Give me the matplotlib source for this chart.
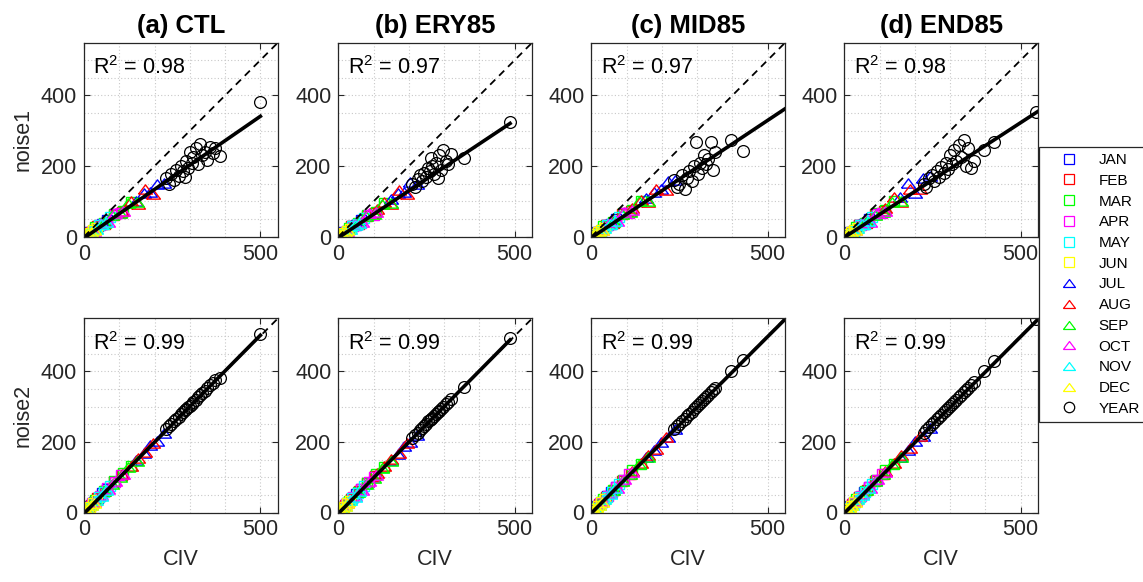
import matplotlib
matplotlib.use('Agg')
import matplotlib.pyplot as plt
from matplotlib.lines import Line2D

plt.rcParams['font.family'] = ['Liberation Sans', 'DejaVu Sans']
plt.rcParams['mathtext.fontset'] = 'custom'
plt.rcParams['mathtext.rm'] = 'Liberation Sans'
plt.rcParams['mathtext.default'] = 'regular'

# ---- data ----
months = ['JAN', 'FEB', 'MAR', 'APR', 'MAY', 'JUN',
          'JUL', 'AUG', 'SEP', 'OCT', 'NOV', 'DEC']
titles = ['(a) CTL', '(b) ERY85', '(c) MID85', '(d) END85']
row_labels = ['noise1', 'noise2']
r2_top = [0.98, 0.97, 0.97, 0.98]
r2_bot = [0.99, 0.99, 0.99, 0.99]
fit_slope_top = [0.69, 0.665, 0.665, 0.65]
fit_icpt_top = [-4, -3, -3, -2]
fit_slope_bot = [1.01, 1.01, 1.0, 1.0]
fit_icpt_bot = [-3, -3, -2, -2]
fit_xmax = [500, 487, 560, 550]

# CTL
ctl_civ_mon = [[15, 28, 40, 52, 66], [20, 38, 60, 84, 108], [32, 58, 86, 110, 134],
               [24, 44, 66, 88, 104], [10, 26, 42, 58, 74], [3, 9, 17, 26, 36],
               [148, 170, 188, 208, 226], [108, 132, 152, 174, 196], [58, 80, 102, 126, 150],
               [28, 48, 68, 88, 110], [9, 20, 34, 48, 62], [2, 6, 12, 19, 28]]
ctl_n1_mon = [[13, 18, 31, 35, 48], [12, 31, 37, 62, 70], [28, 40, 64, 74, 98],
              [13, 33, 42, 64, 66], [9, 15, 33, 36, 55], [3, 7, 11, 18, 25],
              [102, 124, 128, 150, 152], [74, 102, 94, 134, 122], [40, 62, 66, 96, 98],
              [17, 39, 42, 68, 72], [7, 15, 23, 35, 41], [2, 5, 8, 14, 19]]
ctl_n2_mon = [[17, 29, 42, 55, 67], [22, 40, 61, 87, 107], [35, 60, 88, 113, 132],
              [26, 46, 68, 87, 106], [12, 28, 43, 57, 76], [4, 10, 16, 27, 35],
              [148, 168, 190, 203, 226], [110, 133, 155, 170, 198], [60, 82, 100, 128, 147],
              [30, 50, 66, 90, 109], [10, 20, 36, 47, 64], [3, 7, 11, 20, 28]]
ctl_civ_yr = [232, 240, 248, 255, 262, 268, 275, 280, 286, 290, 295, 300, 305,
              310, 318, 322, 330, 335, 342, 350, 358, 365, 372, 385, 499]
ctl_n1_yr = [165, 150, 178, 160, 190, 172, 200, 185, 168, 215, 195, 240, 210,
             225, 250, 205, 262, 230, 240, 218, 255, 238, 250, 228, 382]
ctl_n2_yr = [236, 244, 250, 258, 266, 270, 279, 284, 290, 292, 298, 303, 308,
             312, 320, 326, 333, 338, 345, 352, 360, 366, 374, 380, 505]

# ERY85
ery_civ_mon = [[14, 26, 39, 50, 64], [18, 36, 58, 82, 104], [30, 55, 82, 108, 130],
               [22, 42, 64, 86, 100], [9, 24, 40, 56, 72], [2, 8, 16, 25, 34],
               [150, 168, 186, 204, 222], [110, 130, 150, 172, 194], [56, 78, 100, 124, 148],
               [26, 46, 66, 86, 108], [8, 19, 32, 46, 60], [2, 5, 11, 18, 26]]
ery_n1_mon = [[12, 17, 29, 33, 46], [11, 29, 37, 60, 66], [26, 38, 62, 71, 95],
              [12, 31, 40, 62, 62], [8, 14, 31, 35, 53], [2, 6, 11, 17, 23],
              [106, 124, 126, 156, 148], [78, 98, 92, 131, 120], [40, 60, 64, 94, 95],
              [16, 37, 41, 66, 70], [6, 14, 22, 33, 40], [2, 4, 8, 13, 18]]
ery_n2_mon = [[16, 27, 41, 52, 66], [20, 38, 60, 84, 103], [33, 57, 84, 110, 128],
              [24, 44, 66, 85, 101], [11, 26, 41, 55, 74], [3, 9, 15, 26, 33],
              [150, 166, 188, 200, 220], [112, 131, 152, 168, 196], [58, 80, 98, 126, 145],
              [28, 48, 64, 88, 107], [9, 19, 34, 45, 62], [3, 6, 10, 19, 26]]
ery_civ_yr = [210, 218, 225, 232, 238, 244, 250, 255, 260, 262, 266, 272,
              278, 283, 285, 290, 298, 305, 312, 320, 355, 487]
ery_n1_yr = [150, 140, 162, 175, 158, 180, 170, 195, 185, 222, 200, 178,
             210, 165, 230, 190, 245, 215, 205, 235, 222, 326]
ery_n2_yr = [212, 220, 226, 234, 240, 246, 252, 258, 262, 264, 268, 274,
             280, 284, 287, 292, 300, 306, 314, 322, 355, 494]

# MID85
mid_civ_mon = [[16, 30, 44, 56, 70], [22, 42, 64, 88, 112], [34, 62, 90, 116, 140],
               [26, 46, 70, 92, 108], [11, 28, 44, 60, 78], [3, 10, 18, 28, 38],
               [156, 178, 198, 218, 238], [116, 140, 160, 184, 212], [62, 86, 110, 134, 160],
               [30, 52, 72, 94, 116], [10, 22, 36, 52, 66], [2, 7, 13, 21, 30]]
mid_n1_mon = [[14, 19, 33, 36, 50], [13, 33, 39, 64, 72], [29, 42, 66, 76, 101],
              [14, 34, 44, 66, 68], [9, 16, 34, 37, 57], [3, 8, 12, 19, 26],
              [110, 128, 134, 158, 160], [80, 104, 98, 136, 132], [42, 65, 70, 100, 102],
              [18, 42, 44, 70, 75], [7, 16, 24, 37, 44], [2, 5, 9, 15, 20]]
mid_n2_mon = [[18, 31, 46, 58, 71], [24, 44, 65, 90, 110], [37, 64, 92, 119, 138],
              [28, 48, 72, 91, 110], [13, 30, 45, 59, 80], [4, 11, 17, 29, 37],
              [156, 176, 200, 214, 236], [118, 141, 162, 180, 214], [64, 88, 108, 136, 157],
              [32, 54, 70, 96, 115], [11, 22, 38, 51, 68], [3, 8, 12, 22, 30]]
mid_civ_yr = [234, 242, 250, 258, 265, 272, 278, 285, 290, 296, 302, 308, 315,
              320, 326, 332, 338, 345, 352, 395, 431]
mid_n1_yr = [160, 140, 150, 175, 135, 165, 185, 158, 200, 269, 178, 210, 195,
             230, 205, 220, 269, 190, 240, 274, 243]
mid_n2_yr = [236, 244, 252, 258, 266, 272, 280, 286, 292, 298, 304, 310, 316,
             322, 328, 334, 340, 346, 352, 402, 431]

# END85
end_civ_mon = [[16, 30, 43, 56, 70], [22, 42, 64, 88, 112], [34, 60, 90, 116, 140],
               [26, 46, 70, 92, 108], [11, 28, 44, 60, 78], [3, 10, 18, 28, 38],
               [158, 180, 200, 222, 242], [116, 140, 162, 186, 214], [62, 86, 110, 134, 160],
               [30, 50, 72, 94, 116], [10, 22, 36, 50, 66], [2, 7, 13, 20, 30]]
end_n1_mon = [[13, 19, 32, 36, 50], [12, 32, 38, 63, 72], [28, 40, 66, 75, 100],
              [13, 33, 44, 65, 67], [9, 16, 33, 37, 57], [3, 7, 12, 18, 25],
              [112, 152, 124, 166, 172], [80, 112, 98, 134, 136], [42, 62, 70, 98, 100],
              [18, 39, 43, 68, 74], [7, 15, 24, 35, 44], [2, 5, 9, 14, 20]]
end_n2_mon = [[18, 31, 45, 58, 71], [24, 44, 65, 90, 110], [37, 62, 92, 119, 138],
              [28, 48, 72, 91, 110], [13, 30, 45, 59, 80], [4, 11, 17, 29, 37],
              [158, 178, 202, 218, 240], [118, 141, 164, 182, 216], [64, 88, 108, 136, 157],
              [32, 52, 70, 96, 115], [11, 22, 38, 49, 68], [3, 8, 12, 21, 30]]
end_civ_yr = [225, 232, 240, 248, 255, 262, 268, 275, 282, 288, 295, 300, 306,
              312, 318, 325, 332, 338, 345, 352, 360, 368, 397, 423, 544]
end_n1_yr = [150, 142, 165, 175, 158, 185, 170, 198, 180, 210, 192, 230, 205,
             245, 215, 260, 225, 274, 200, 250, 194, 215, 246, 269, 352]
end_n2_yr = [226, 234, 242, 250, 256, 264, 270, 277, 284, 290, 297, 302, 308,
             314, 320, 327, 334, 340, 347, 354, 362, 370, 400, 428, 548]

civ_mon = [ctl_civ_mon, ery_civ_mon, mid_civ_mon, end_civ_mon]
n1_mon = [ctl_n1_mon, ery_n1_mon, mid_n1_mon, end_n1_mon]
n2_mon = [ctl_n2_mon, ery_n2_mon, mid_n2_mon, end_n2_mon]
civ_yr = [ctl_civ_yr, ery_civ_yr, mid_civ_yr, end_civ_yr]
n1_yr = [ctl_n1_yr, ery_n1_yr, mid_n1_yr, end_n1_yr]
n2_yr = [ctl_n2_yr, ery_n2_yr, mid_n2_yr, end_n2_yr]

# ---- styling ----
colors = ['#0000ff', '#ff0000', '#00ff00', '#ff00ff', '#00ffff', '#ffff00'] * 2
tri = [(-1.5, -1.0), (1.5, -1.0), (0.0, 1.0), (-1.5, -1.0)]  # wide MATLAB-like triangle
mk = ['s'] * 6 + [tri] * 6
ms = [7.2] * 6 + [10.0] * 6
dark = '#262626'

W, H = 1143, 582
fig = plt.figure(figsize=(W / 100, H / 100), dpi=100)

lefts = [84, 338.3, 591.3, 844.3]
tops = [42.5, 318.3]
aw, ah = 194, 194.2


def panel(ax, civ_m, y_m, civ_y, y_y, slope, icpt, xmax, r2):
    for k in range(12):
        ax.plot(civ_m[k], y_m[k], linestyle='none', marker=mk[k], ms=ms[k],
                mfc='none', mec=colors[k], mew=1.0)
    ax.plot(civ_y, y_y, linestyle='none', marker='o', ms=8.5,
            mfc='none', mec='k', mew=0.9)
    ax.plot([0, 550], [0, 550], 'k--', lw=1.3, dashes=(4, 3))
    ax.plot([0, xmax], [icpt, icpt + slope * xmax], 'k-', lw=2.6)
    ax.set_xlim(0, 550)
    ax.set_ylim(0, 550)
    ax.set_xticks([0, 500])
    ax.set_yticks([0, 200, 400])
    ax.set_xticks(range(100, 600, 100), minor=True)
    ax.set_yticks(range(50, 550, 50), minor=True)
    ax.grid(True, which='both', color='#c8c8c8', linestyle=(0, (1, 2)), lw=0.8)
    ax.set_axisbelow(True)
    ax.tick_params(which='major', direction='in', length=4, width=0.8, top=True,
                   right=True, labelsize=15.5, colors=dark, pad=5)
    ax.tick_params(which='minor', length=0)
    for s in ax.spines.values():
        s.set_color(dark)
        s.set_linewidth(0.9)
    ax.text(0.048, 0.838, 'R$^{2}$ = %.2f' % r2, transform=ax.transAxes,
            fontsize=15.5, color='k', va='baseline', ha='left')


for j in range(4):
    ax1 = fig.add_axes([lefts[j] / W, 1 - (tops[0] + ah) / H, aw / W, ah / H])
    panel(ax1, civ_mon[j], n1_mon[j], civ_yr[j], n1_yr[j],
          fit_slope_top[j], fit_icpt_top[j], fit_xmax[j], r2_top[j])
    ax1.set_title(titles[j], fontsize=18.5, fontweight='bold', pad=7)
    ax2 = fig.add_axes([lefts[j] / W, 1 - (tops[1] + ah) / H, aw / W, ah / H])
    panel(ax2, civ_mon[j], n2_mon[j], civ_yr[j], n2_yr[j],
          fit_slope_bot[j], fit_icpt_bot[j], fit_xmax[j], r2_bot[j])
    ax2.set_xlabel('CIV', fontsize=15.5, color=dark, labelpad=6)
    if j == 0:
        ax1.set_ylabel(row_labels[0], fontsize=15.5, color=dark, labelpad=5)
        ax2.set_ylabel(row_labels[1], fontsize=15.5, color=dark, labelpad=5)

leg_ms = [6.5] * 6 + [8.6] * 6
handles = [Line2D([], [], linestyle='none', marker=mk[k], ms=leg_ms[k],
                  mfc='none', mec=colors[k], mew=0.9) for k in range(12)]
handles.append(Line2D([], [], linestyle='none', marker='o', ms=7.5, mfc='none',
                      mec='k', mew=0.9))
leg = fig.legend(handles, months + ['YEAR'], loc='upper left',
                 bbox_to_anchor=(1039 / W, 1 - 147 / H), fontsize=11,
                 frameon=True, fancybox=False, borderaxespad=0, borderpad=0.4,
                 handlelength=3.1, handletextpad=0.4, labelspacing=0.44,
                 numpoints=1)
leg.get_frame().set_edgecolor(dark)
leg.get_frame().set_linewidth(0.9)
leg.get_frame().set_alpha(1)

fig.savefig('out.png', dpi=100)
